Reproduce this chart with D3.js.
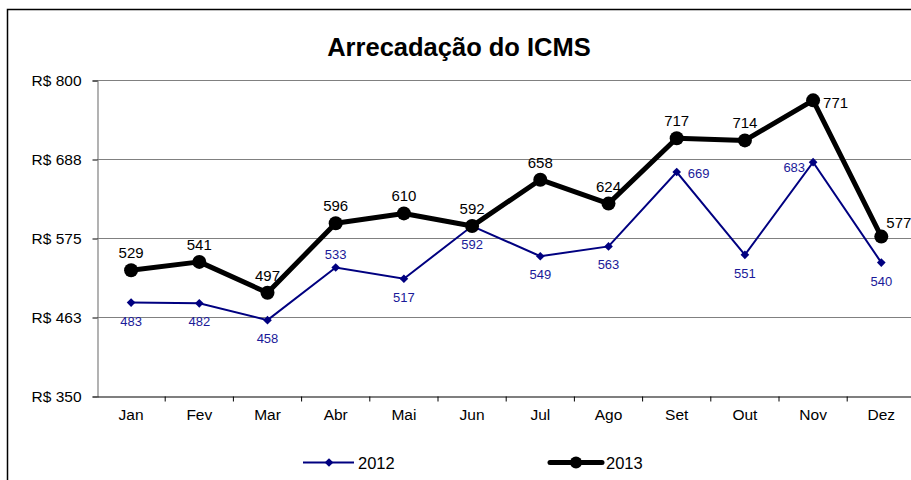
<!DOCTYPE html>
<meta charset="utf-8">
<script src="https://d3js.org/d3.v7.min.js"></script>
<style>
  body { margin: 0; background: #fff; }
  text { font-family: "Liberation Sans", Arial, sans-serif; }
</style>
<div id="chart"></div>
<script>
  // data
  const months = ["Jan", "Fev", "Mar", "Abr", "Mai", "Jun", "Jul", "Ago", "Set", "Out", "Nov", "Dez"];
  const values2012 = [483, 482, 458, 533, 517, 592, 549, 563, 669, 551, 683, 540];
  const values2013 = [529, 541, 497, 596, 610, 592, 658, 624, 717, 714, 771, 577];
  const yTicks = [350, 462.5, 575, 687.5, 800];

  const W = 911, H = 480;
  const svg = d3.select("#chart").append("svg")
    .attr("width", W).attr("height", H);

  // outer chart border (runs off the right / bottom edge)
  svg.append("path")
    .attr("d", "M7.5,480 L7.5,9.5 L911,9.5")
    .attr("fill", "none").attr("stroke", "#000").attr("stroke-width", 1.5);

  svg.append("text")
    .attr("x", 459).attr("y", 56)
    .attr("text-anchor", "middle")
    .style("font-size", "25.5px").style("font-weight", "bold")
    .text("Arrecadação do ICMS");

  const x = d3.scaleBand().domain(months).range([97, 915.4]);
  const y = d3.scaleLinear().domain([350, 800]).range([396, 80]);

  // gridlines
  svg.append("g").selectAll("line")
    .data(yTicks.slice(1))
    .join("line")
      .attr("x1", 97).attr("x2", W)
      .attr("y1", d => Math.round(y(d)) + 0.5).attr("y2", d => Math.round(y(d)) + 0.5)
      .attr("stroke", "#808080").attr("stroke-width", 1.2);

  // y axis
  const yAxis = svg.append("g")
    .attr("transform", "translate(97.5,0.5)")
    .call(d3.axisLeft(y).tickValues(yTicks).tickSize(5).tickPadding(11)
      .tickFormat(d => "R$ " + Math.round(d)));
  yAxis.select(".domain").attr("stroke", "#808080").attr("stroke-width", 1.2);
  yAxis.selectAll(".tick line").attr("stroke", "#000");
  yAxis.selectAll("text").style("font-size", "15.5px").attr("fill", "#000").attr("dy", "0.35em");

  // x axis
  const xAxis = svg.append("g")
    .attr("transform", "translate(0,396.5)")
    .call(d3.axisBottom(x).tickSize(0).tickPadding(12));
  xAxis.select(".domain").attr("stroke", "#000").attr("stroke-width", 1.2);
  xAxis.selectAll("text").style("font-size", "15.5px").attr("fill", "#000");
  xAxis.selectAll(".sep")
    .data(months.slice(1).concat(["end"]))
    .join("line")
      .attr("class", "sep")
      .attr("x1", (d, i) => x.range()[0] + (i + 1) * x.step())
      .attr("x2", (d, i) => x.range()[0] + (i + 1) * x.step())
      .attr("y1", 0).attr("y2", 5)
      .attr("stroke", "#000");

  const cx = (d, i) => x(months[i]) + x.bandwidth() / 2;
  const line = d3.line().x(cx).y(d => y(d));

  // 2012 series
  const navy = "#000080";
  svg.append("path").datum(values2012)
    .attr("d", line).attr("fill", "none")
    .attr("stroke", navy).attr("stroke-width", 2);
  svg.append("g").selectAll("path")
    .data(values2012)
    .join("path")
      .attr("d", d3.symbol(d3.symbolDiamond2, 48))
      .attr("transform", (d, i) => `translate(${cx(d, i)},${y(d)})`)
      .attr("fill", navy);

  // 2013 series
  svg.append("path").datum(values2013)
    .attr("d", line).attr("fill", "none")
    .attr("stroke", "#000").attr("stroke-width", 5).attr("stroke-linejoin", "round");
  svg.append("g").selectAll("circle")
    .data(values2013)
    .join("circle")
      .attr("cx", cx).attr("cy", d => y(d)).attr("r", 7)
      .attr("fill", "#000");

  // labels
  const place2012 = {3: "above", 8: "right", 10: "left"};
  svg.append("g").selectAll("text")
    .data(values2012)
    .join("text")
      .each(function(d, i) {
        const p = place2012[i] || "below";
        const t = d3.select(this);
        let px = cx(d, i), py = y(d) + 23, anchor = "middle";
        if (p === "above") py = y(d) - 8;
        if (p === "right") { px += 11; py = y(d) + 6; anchor = "start"; }
        if (p === "left") { px -= 8; py = y(d) + 10; anchor = "end"; }
        t.attr("x", px).attr("y", py).attr("text-anchor", anchor);
      })
      .attr("fill", "#1a1a99").style("font-size", "13px")
      .text(d => d);

  const place2013 = {10: "right", 11: "rightup"};
  svg.append("g").selectAll("text")
    .data(values2013)
    .join("text")
      .each(function(d, i) {
        const p = place2013[i] || "above";
        const t = d3.select(this);
        let px = cx(d, i), py = y(d) - 12, anchor = "middle";
        if (p === "right") { px += 10; py = y(d) + 8; anchor = "start"; }
        if (p === "rightup") { px += 5; py = y(d) - 9; anchor = "start"; }
        t.attr("x", px).attr("y", py).attr("text-anchor", anchor);
      })
      .attr("fill", "#000").style("font-size", "15px")
      .text(d => d);

  // legend
  const legend = svg.append("g");
  legend.append("line").attr("x1", 303).attr("x2", 354).attr("y1", 462.5).attr("y2", 462.5)
    .attr("stroke", navy).attr("stroke-width", 2);
  legend.append("path").attr("d", d3.symbol(d3.symbolDiamond2, 48))
    .attr("transform", "translate(329,462.5)").attr("fill", navy);
  legend.append("text").attr("x", 358).attr("y", 469).style("font-size", "16.5px").text("2012");

  legend.append("line").attr("x1", 550).attr("x2", 602).attr("y1", 462.5).attr("y2", 462.5)
    .attr("stroke", "#000").attr("stroke-width", 5).attr("stroke-linecap", "round");
  legend.append("circle").attr("cx", 576).attr("cy", 462.5).attr("r", 6).attr("fill", "#000");
  legend.append("text").attr("x", 606).attr("y", 469).style("font-size", "16.5px").text("2013");
</script>
